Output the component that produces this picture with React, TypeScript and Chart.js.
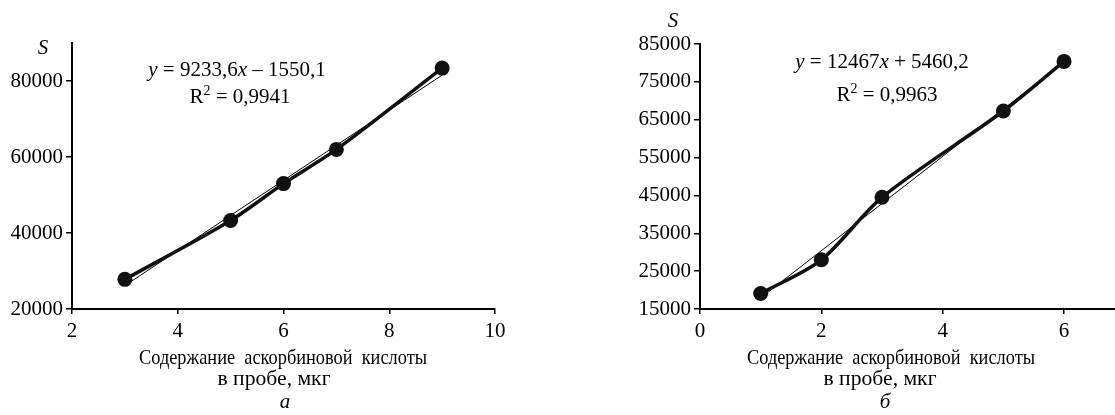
import React, { useEffect, useRef } from 'react';
import { Chart, registerables } from 'chart.js';

Chart.register(...registerables);

const FONT = '"Liberation Serif", "Times New Roman", serif';

// ---- Chart а ----
const xValuesA = [3, 5, 6, 7, 9];
const sValuesA = [27800, 43300, 53000, 62000, 83400];
const trendXA = [3, 9];
const trendSA = [26150, 81550];
const xTicksA = [2, 4, 6, 8, 10];
const yTicksA = [20000, 40000, 60000, 80000];

// ---- Chart б ----
const xValuesB = [1, 2, 3, 5, 6];
const sValuesB = [19100, 28000, 44500, 67300, 80400];
const trendXB = [1, 6];
const trendSB = [17930, 80260];
const xTicksB = [0, 2, 4, 6];
const yTicksB = [15000, 25000, 35000, 45000, 55000, 65000, 75000, 85000];

const xTitleLine1 = 'Содержание  аскорбиновой  кислоты';
const xTitleLine2 = 'в пробе, мкг';
const yTitle = 'S';

type Seg = { t: string; italic?: boolean; sup?: boolean };

function drawRich(
  ctx: CanvasRenderingContext2D,
  segs: Seg[],
  cx: number,
  baseline: number,
  size: number,
  targetWidth?: number
) {
  const fontOf = (s: Seg) => `${s.italic ? 'italic ' : ''}${s.sup ? Math.round(size * 0.65) : size}px ${FONT}`;
  let w = 0;
  for (const s of segs) {
    ctx.font = fontOf(s);
    w += ctx.measureText(s.t).width;
  }
  const sx = targetWidth ? targetWidth / w : 1;
  ctx.save();
  ctx.translate(cx - (w * sx) / 2, baseline);
  ctx.scale(sx, 1);
  ctx.textAlign = 'left';
  ctx.textBaseline = 'alphabetic';
  let x = 0;
  for (const s of segs) {
    ctx.font = fontOf(s);
    ctx.fillText(s.t, x, s.sup ? -size * 0.38 : 0);
    x += ctx.measureText(s.t).width;
  }
  ctx.restore();
}

type Texts = {
  s: [number, number];
  eq: Seg[];
  eqPos: [number, number];
  r2: Seg[];
  r2Pos: [number, number];
  t1x: number;
  t2x: number;
  cap: string;
  capx: number;
};

function makeConfig(opts: {
  xs: number[]; ys: number[]; tx: number[]; ty: number[];
  xMin: number; xMax: number; yMin: number; yMax: number;
  xTicks: number[]; yTicks: number[];
  yAxisWidth: number; padTop: number; padRight: number;
  texts: Texts;
}): any {
  const T = opts.texts;
  const textPlugin = {
    id: 'texts',
    afterDraw(chart: any) {
      const ctx: CanvasRenderingContext2D = chart.ctx;
      ctx.save();
      ctx.fillStyle = '#000';
      drawRich(ctx, [{ t: yTitle, italic: true }], T.s[0], T.s[1], 21);
      drawRich(ctx, T.eq, T.eqPos[0], T.eqPos[1], 21);
      drawRich(ctx, T.r2, T.r2Pos[0], T.r2Pos[1], 21);
      drawRich(ctx, [{ t: xTitleLine1 }], T.t1x, 364, 21, 288);
      drawRich(ctx, [{ t: xTitleLine2 }], T.t2x, 385, 21, 113);
      drawRich(ctx, [{ t: T.cap, italic: true }], T.capx, 408, 21);
      ctx.restore();
    },
  };
  return {
    type: 'line',
    data: {
      datasets: [
        {
          data: opts.xs.map((x, i) => ({ x, y: opts.ys[i] })),
          borderColor: '#111',
          borderWidth: 3.5,
          tension: 0.3,
          pointRadius: 7.5,
          pointBackgroundColor: '#111',
          pointBorderWidth: 0,
          order: 1,
          clip: false,
        },
        {
          data: opts.tx.map((x, i) => ({ x, y: opts.ty[i] })),
          borderColor: '#000',
          borderWidth: 1,
          tension: 0,
          pointRadius: 0,
          order: 2,
          clip: false,
        },
      ],
    },
    options: {
      responsive: false,
      animation: false,
      events: [],
      layout: { autoPadding: false, padding: { top: opts.padTop, right: opts.padRight, left: 0, bottom: 0 } },
      plugins: { legend: { display: false }, tooltip: { enabled: false } },
      scales: {
        x: {
          type: 'linear',
          min: opts.xMin,
          max: opts.xMax,
          afterBuildTicks: (scale: any) => {
            scale.ticks = opts.xTicks.map((v) => ({ value: v }));
          },
          afterFit: (scale: any) => {
            scale.height = 106;
            scale.paddingRight = 0;
          },
          grid: { drawOnChartArea: false, drawTicks: true, tickLength: 5, color: '#000', lineWidth: 1.5 },
          border: { display: true, color: '#000', width: 2 },
          ticks: {
            color: '#000',
            font: { family: FONT, size: 21 },
            padding: 5,
            maxRotation: 0,
            autoSkip: false,
            callback: (v: any) => String(v),
          },
        },
        y: {
          type: 'linear',
          min: opts.yMin,
          max: opts.yMax,
          afterBuildTicks: (scale: any) => {
            scale.ticks = opts.yTicks.map((v) => ({ value: v }));
          },
          afterFit: (scale: any) => {
            scale.width = opts.yAxisWidth;
          },
          grid: { drawOnChartArea: false, drawTicks: true, tickLength: 6, color: '#000', lineWidth: 1.5 },
          border: { display: true, color: '#000', width: 2 },
          ticks: {
            color: '#000',
            font: { family: FONT, size: 21 },
            padding: 3,
            autoSkip: false,
            callback: (v: any) => String(v),
          },
        },
      },
    },
    plugins: [textPlugin],
  };
}

function ChartCanvas({ config, width, height, left }: { config: any; width: number; height: number; left: number }) {
  const ref = useRef<HTMLCanvasElement | null>(null);
  useEffect(() => {
    if (!ref.current) return;
    const chart = new Chart(ref.current, config);
    return () => chart.destroy();
  }, []);
  return (
    <canvas
      ref={ref}
      width={width}
      height={height}
      style={{ position: 'absolute', left, top: 0, width, height, display: 'block' }}
    />
  );
}

export default function App() {
  const configA = makeConfig({
    xs: xValuesA, ys: sValuesA, tx: trendXA, ty: trendSA,
    xMin: 2, xMax: 10, yMin: 20000, yMax: 90000,
    xTicks: xTicksA, yTicks: yTicksA,
    yAxisWidth: 72, padTop: 43, padRight: 65,
    texts: {
      s: [43, 54],
      eq: [{ t: 'y', italic: true }, { t: ' = 9233,6' }, { t: 'x', italic: true }, { t: ' – 1550,1' }],
      eqPos: [237, 76],
      r2: [{ t: 'R' }, { t: '2', sup: true }, { t: ' = 0,9941' }],
      r2Pos: [240, 103],
      t1x: 283,
      t2x: 274,
      cap: 'а',
      capx: 285,
    },
  });
  const configB = makeConfig({
    xs: xValuesB, ys: sValuesB, tx: trendXB, ty: trendSB,
    xMin: 0, xMax: 6.84, yMin: 15000, yMax: 85000,
    xTicks: xTicksB, yTicks: yTicksB,
    yAxisWidth: 140, padTop: 44, padRight: 0,
    texts: {
      s: [113, 27],
      eq: [{ t: 'y', italic: true }, { t: ' = 12467' }, { t: 'x', italic: true }, { t: ' + 5460,2' }],
      eqPos: [322, 68],
      r2: [{ t: 'R' }, { t: '2', sup: true }, { t: ' = 0,9963' }],
      r2Pos: [327, 101],
      t1x: 331,
      t2x: 320,
      cap: 'б',
      capx: 325,
    },
  });
  return (
    <div style={{ position: 'fixed', left: 0, top: 0, width: 1115, height: 415, background: '#fff' }}>
      <ChartCanvas config={configA} width={560} height={415} left={0} />
      <ChartCanvas config={configB} width={555} height={415} left={560} />
    </div>
  );
}
